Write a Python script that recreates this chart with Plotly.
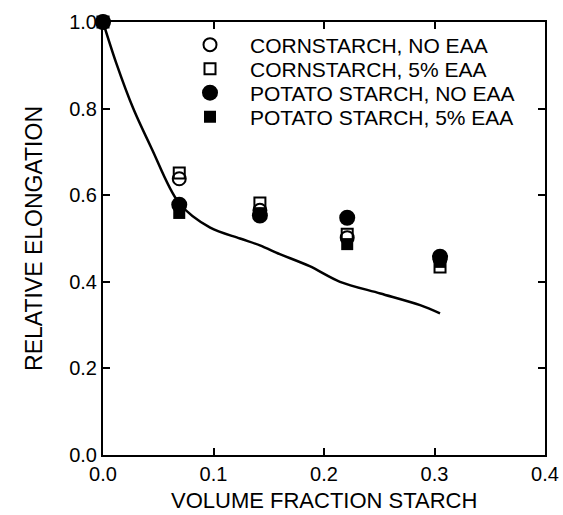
import plotly.graph_objects as go

# Data
x_cluster = [0.0, 0.069, 0.142, 0.221, 0.305]
corn_no_eaa = [1.0, 0.638, 0.565, 0.502, 0.452]
corn_5_eaa = [1.0, 0.651, 0.582, 0.510, 0.434]
potato_no_eaa = [1.0, 0.578, 0.553, 0.548, 0.458]
potato_5_eaa = [1.0, 0.559, 0.558, 0.487, 0.446]

curve_x = [0.0, 0.012, 0.0274, 0.044, 0.0688, 0.097, 0.124, 0.142, 0.160, 0.187, 0.2145, 0.251, 0.287, 0.305]
curve_y = [1.0, 0.905, 0.80, 0.708, 0.582, 0.525, 0.500, 0.484, 0.464, 0.436, 0.400, 0.373, 0.346, 0.327]

x_ticks = [0.0, 0.1, 0.2, 0.3, 0.4]
y_ticks = [0.0, 0.2, 0.4, 0.6, 0.8, 1.0]

series_names = ["CORNSTARCH, NO EAA", "CORNSTARCH, 5% EAA", "POTATO STARCH, NO EAA", "POTATO STARCH, 5% EAA"]
x_title = "VOLUME FRACTION STARCH"
y_title = "RELATIVE ELONGATION"

FONT = "Liberation Sans, Arial, Helvetica, sans-serif"

fig = go.Figure()

fig.add_trace(go.Scatter(x=curve_x, y=curve_y, mode="lines",
                         line=dict(color="black", width=2.5, shape="spline", smoothing=0.9),
                         showlegend=False, hoverinfo="skip", cliponaxis=False))

fig.add_trace(go.Scatter(x=x_cluster, y=corn_no_eaa, mode="markers", name=series_names[0], legend="legend",
                         marker=dict(symbol="circle-open", size=13, color="black", line=dict(width=2, color="black")),
                         cliponaxis=False))
fig.add_trace(go.Scatter(x=x_cluster, y=corn_5_eaa, mode="markers", name=series_names[1], legend="legend2",
                         marker=dict(symbol="square-open", size=11, color="black", line=dict(width=2, color="black")),
                         cliponaxis=False))
fig.add_trace(go.Scatter(x=x_cluster, y=potato_no_eaa, mode="markers", name=series_names[2], legend="legend3",
                         marker=dict(symbol="circle", size=16, color="black"),
                         cliponaxis=False))
fig.add_trace(go.Scatter(x=x_cluster, y=potato_5_eaa, mode="markers", name=series_names[3], legend="legend4",
                         marker=dict(symbol="square", size=12, color="black"),
                         cliponaxis=False))

axis_common = dict(
    showline=True, linecolor="black", linewidth=2, mirror="ticks",
    ticks="inside", ticklen=7, tickwidth=2, tickcolor="black",
    showgrid=False, zeroline=False, automargin=False,
    tickfont=dict(family=FONT, size=20, color="black"),
)

legend_common = dict(x=0.1516, xanchor="left", yanchor="middle", bgcolor="rgba(0,0,0,0)",
                     font=dict(family=FONT, size=21, color="black"), itemwidth=70)

fig.update_layout(
    width=563, height=515,
    margin=dict(l=103, r=18, t=22, b=60),
    paper_bgcolor="white", plot_bgcolor="white",
    font=dict(family=FONT, color="black"),
    xaxis=dict(range=[0, 0.4], tickvals=x_ticks, ticktext=[f"{v:.1f}" for v in x_ticks],
               ticklabelstandoff=0, **axis_common),
    yaxis=dict(range=[0, 1.0], tickvals=y_ticks, ticktext=[f"{v:.1f}" for v in y_ticks],
               title=dict(text=y_title, font=dict(family=FONT, size=23), standoff=20),
               **axis_common),
    legend=dict(y=0.9469, **legend_common),
    legend2=dict(y=0.8915, **legend_common),
    legend3=dict(y=0.8360, **legend_common),
    legend4=dict(y=0.7806, **legend_common),
    annotations=[dict(text=x_title, xref="paper", yref="paper", x=0.5, y=-0.1363,
                      xanchor="center", yanchor="bottom", showarrow=False, borderpad=0,
                      font=dict(family=FONT, size=22, color="black"))],
)

fig.write_html("out.html")
